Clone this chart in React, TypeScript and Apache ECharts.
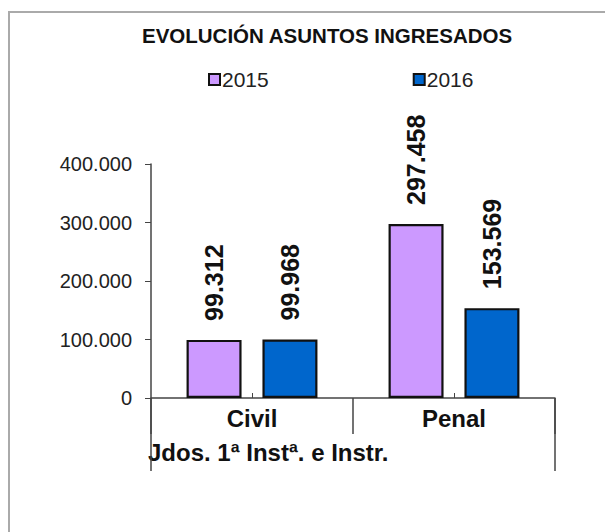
import React, { useEffect, useRef } from "react";
import * as echarts from "echarts";

const categories = ["Civil", "Penal"];
const groupLabel = "Jdos. 1ª Instª. e Instr.";
const seriesNames = ["2015", "2016"];
const values2015 = [99312, 297458];
const values2016 = [99968, 153569];
const colors = ["#CC99FF", "#0066CC"];
const titleText = "EVOLUCIÓN ASUNTOS INGRESADOS";

const fmt = (v: number) =>
  String(Math.round(v)).replace(/\B(?=(\d{3})+(?!\d))/g, ".");

export default function App() {
  const ref = useRef<HTMLDivElement>(null);
  useEffect(() => {
    if (!ref.current) return;
    const chart = echarts.init(ref.current, null, { renderer: "svg" });
    const font = "'Liberation Sans', Arial, sans-serif";
    const labelStyle = {
      show: true,
      position: "top" as const,
      rotate: 90,
      align: "left" as const,
      verticalAlign: "middle" as const,
      distance: 19,
      fontSize: 25,
      fontWeight: "bold" as const,
      fontFamily: font,
      color: "#111",
      formatter: (p: any) => fmt(p.value),
    };
    const mkSeries = (name: string, data: number[], color: string) => ({
      name,
      type: "bar",
      data,
      barWidth: 55,
      barGap: "38%",
      itemStyle: { color, borderColor: "#111", borderWidth: 2.2 },
      label: labelStyle,
    });
    chart.setOption({
      animation: false,
      backgroundColor: "#fff",
      textStyle: { fontFamily: font },
      title: {
        text: titleText,
        left: 142,
        top: 25,
        padding: 0,
        textStyle: { fontSize: 20.5, fontWeight: "bold", color: "#111", fontFamily: font },
      },
      legend: {
        left: 203,
        top: 64,
        itemGap: 144,
        itemWidth: 11,
        itemHeight: 11,
        icon: "rect",
        textStyle: { fontSize: 21, color: "#222", fontFamily: font, padding: [0, 0, 0, -3] },
        data: seriesNames,
      },
      grid: { left: 151, right: 50, top: 164, bottom: 134, containLabel: false },
      xAxis: [
        {
          type: "category",
          data: categories,
          axisLine: { lineStyle: { color: "#444", width: 1.5 } },
          axisTick: { show: true, inside: true, alignWithLabel: true, length: 5, lineStyle: { color: "#444" } },
          axisLabel: { fontSize: 24, fontWeight: "bold", color: "#111", margin: 8, fontFamily: font },
        },
        {
          type: "category",
          data: categories,
          position: "bottom",
          axisLine: { show: false },
          axisTick: { show: true, length: 36, lineStyle: { color: "#444", width: 1.5 } },
          axisLabel: { show: false },
        },
        {
          type: "category",
          data: [groupLabel],
          position: "bottom",
          axisLine: { show: false },
          axisTick: { show: true, length: 73, lineStyle: { color: "#444", width: 1.5 } },
          axisLabel: { show: false },
        },
      ],
      yAxis: {
        type: "value",
        min: 0,
        max: 400000,
        interval: 100000,
        splitLine: { show: false },
        axisLine: { show: true, lineStyle: { color: "#444", width: 1.5 } },
        axisTick: { show: true, length: 6, lineStyle: { color: "#444" } },
        axisLabel: { fontSize: 20, color: "#222", margin: 19, fontFamily: font, formatter: (v: number) => fmt(v) },
      },
      graphic: [
        {
          type: "rect",
          z: -10,
          shape: { x: 9, y: 12, width: 700, height: 600 },
          style: { fill: "none", stroke: "#AAAAAA", lineWidth: 2 },
        },
        {
          type: "text",
          x: 148,
          y: 452,
          style: {
            text: groupLabel,
            fontSize: 24,
            fontWeight: "bold",
            fontFamily: font,
            fill: "#111",
            textAlign: "left",
            textVerticalAlign: "middle",
          },
        },
      ],
      series: [
        mkSeries(seriesNames[0], values2015, colors[0]),
        mkSeries(seriesNames[1], values2016, colors[1]),
      ],
    });
    return () => chart.dispose();
  }, []);
  return (
    <div
      ref={ref}
      style={{ position: "absolute", left: 0, top: 0, width: 605, height: 532, background: "#fff" }}
    />
  );
}
